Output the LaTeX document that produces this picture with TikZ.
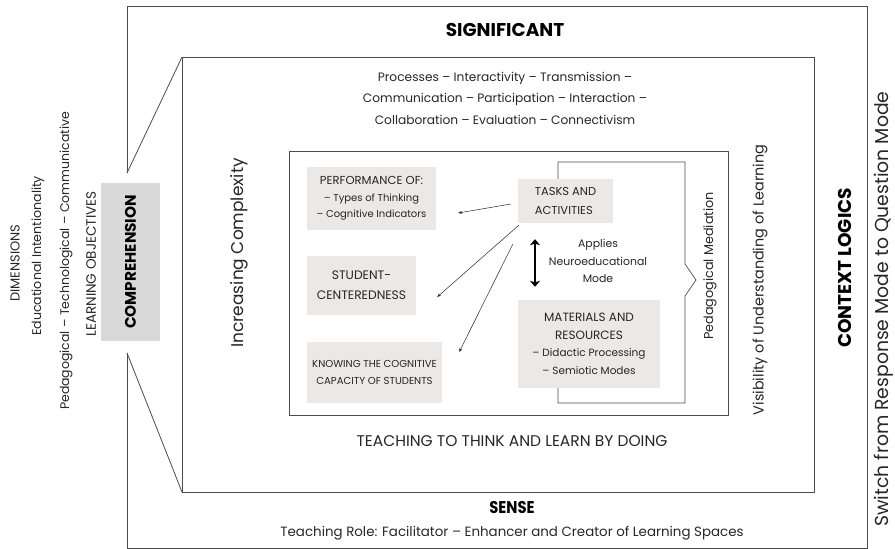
\documentclass[tikz,border=0pt]{standalone}
\usepackage{fontspec}
\setmainfont{Poppins}
\usetikzlibrary{arrows.meta,calc}
\definecolor{boxgray}{HTML}{ECE8E6}
\definecolor{compgray}{HTML}{D9D9D9}
\definecolor{ink}{HTML}{262626}
\begin{document}
\begin{tikzpicture}[x=1pt,y=-1pt,
  frame/.style={draw=black!70, line width=0.8pt},
  graybox/.style={fill=boxgray, inner sep=0pt, align=center, text=ink},
  thinarrow/.style={draw=black!85, line width=0.5pt, -{Stealth[length=4pt,width=3pt]}},
  bigarrow/.style={draw=black, line width=2.6pt, {Stealth[length=6pt,width=10pt,inset=1.5pt]}-{Stealth[length=6pt,width=10pt,inset=1.5pt]}},
  plain/.style={text=ink, inner sep=0pt, align=center},
  heading/.style={text=black, inner sep=0pt, font=\bfseries\fontsize{18.5}{21}\selectfont}
]
\useasboundingbox (0,0) rectangle (895,549);

% outer frame with the opening toward the comprehension box
\draw[frame] (127,173) -- (127,6) -- (867,6) -- (867,548) -- (127,548) -- (127,353);
\draw[frame] (127,173) -- (182,57);
\draw[frame] (127,353) -- (182,492);
% middle frame
\draw[frame] (182,57) rectangle (814,492);
% inner frame
\draw[frame] (289,151) rectangle (728,415);

% comprehension box and the texts beside it
\node[fill=compgray, minimum width=59pt, minimum height=158pt, inner sep=0pt] (comp) at (130.5,262) {};
\node[heading, rotate=90, font=\bfseries\fontsize{15.3}{18}\selectfont] (comptext) at (comp.center) {COMPREHENSION};
\node[plain, rotate=90, font=\fontsize{13.6}{16}\selectfont] (objectives) at (91,264) {LEARNING OBJECTIVES};
\node[plain, rotate=90, font=\fontsize{12.5}{15}\selectfont] (pedtech) at (66,261) {Pedagogical -- Technological -- Communicative};
\node[plain, rotate=90, font=\fontsize{12.6}{15}\selectfont] (intent) at (38,256) {Educational Intentionality};
\node[plain, rotate=90, font=\fontsize{13}{15}\selectfont] (dimensions) at (15,263) {DIMENSIONS};

% headings of the frames
\node[heading] (significant) at (505,30) {SIGNIFICANT};
\node[heading, font=\bfseries\fontsize{17}{20}\selectfont] (sense) at (512,508) {\scalebox{0.87}[1]{SENSE}};
\node[plain, font=\fontsize{13.4}{16}\selectfont] (role) at (512,533) {Teaching Role: Facilitator -- Enhancer and Creator of Learning Spaces};
\node[heading, rotate=90] (context) at (845,268) {CONTEXT LOGICS};
\node[plain, rotate=90, font=\fontsize{18.8}{21}\selectfont] (switch) at (884,309) {Switch from Response Mode to Question Mode};

% texts of the middle frame
\node[plain, font=\fontsize{12.2}{21.5}\selectfont] (processes) at (505,98) {Processes -- Interactivity -- Transmission --\\Communication -- Participation -- Interaction --\\Collaboration -- Evaluation -- Connectivism};
\node[plain, rotate=90, font=\fontsize{17}{20}\selectfont] (complexity) at (239,253) {Increasing Complexity};
\node[plain, rotate=90, font=\fontsize{14.4}{17}\selectfont] (visibility) at (760,280) {Visibility of Understanding of Learning};
\node[plain, font=\fontsize{15.5}{18}\selectfont] (doing) at (512,441) {TEACHING TO THINK AND LEARN BY DOING};

% gray boxes inside the inner frame
\node[graybox, minimum width=129pt, minimum height=63pt, font=\fontsize{10}{16.5}\selectfont] (perf) at (371.5,198.5) {{\fontsize{11.6}{16.5}\selectfont PERFORMANCE OF:}\\-- Types of Thinking\\-- Cognitive Indicators};
\node[graybox, minimum width=95pt, minimum height=44pt, font=\fontsize{11.5}{20}\selectfont] (tasks) at (565.5,201) {\begin{tabular}{@{}l@{}}TASKS AND\\[-1pt]ACTIVITIES\end{tabular}};
\node[graybox, minimum width=109pt, minimum height=59pt, font=\fontsize{12.3}{20}\selectfont] (student) at (361.5,285.5) {STUDENT-\\CENTEREDNESS};
\node[graybox, minimum width=135pt, minimum height=61pt, font=\fontsize{10.1}{17}\selectfont] (knowing) at (374.5,372.5) {KNOWING THE COGNITIVE\\CAPACITY OF STUDENTS};
\node[graybox, minimum width=142pt, minimum height=88pt, font=\fontsize{10.5}{17.5}\selectfont] (materials) at (589,344) {{\fontsize{12}{17.5}\selectfont MATERIALS AND}\\{\fontsize{12}{17.5}\selectfont RESOURCES}\\-- Didactic Processing\\-- Semiotic Modes};

% applies label and the two-way arrow
\node[plain, font=\fontsize{10.9}{17.5}\selectfont] (applies) at (598,261) {Applies\\Neuroeducational\\Mode};
\coordinate (bitop) at ($(tasks.south)+(-30.5,16)$);
\coordinate (bibot) at ($(materials.north)+(-54,-13)$);
\draw[bigarrow] (bitop) -- (bibot);

% arrows from the tasks box
\draw[thinarrow] ($(tasks.west)+(-7,3)$) -- ($(perf.east)+(22,14.5)$);
\draw[thinarrow] ($(tasks.south west)+(1,2)$) -- ($(student.east)+(21,11.5)$);
\draw[thinarrow] ($(tasks.south west)+(-5,21)$) -- ($(knowing.east)+(17,-20.5)$);

% pedagogical mediation bracket from tasks to materials
\draw[frame, line width=0.7pt] (tasks.north -| 558,0) -- (558,162) -- (685,162) -- (685,264) -- (696,280) -- (685,296) -- (685,403) -- (558,403) -- (materials.south -| 558,0);
\node[plain, rotate=90, font=\fontsize{12.8}{15}\selectfont] (mediation) at (710,266) {Pedagogical Mediation};
\end{tikzpicture}
\end{document}
